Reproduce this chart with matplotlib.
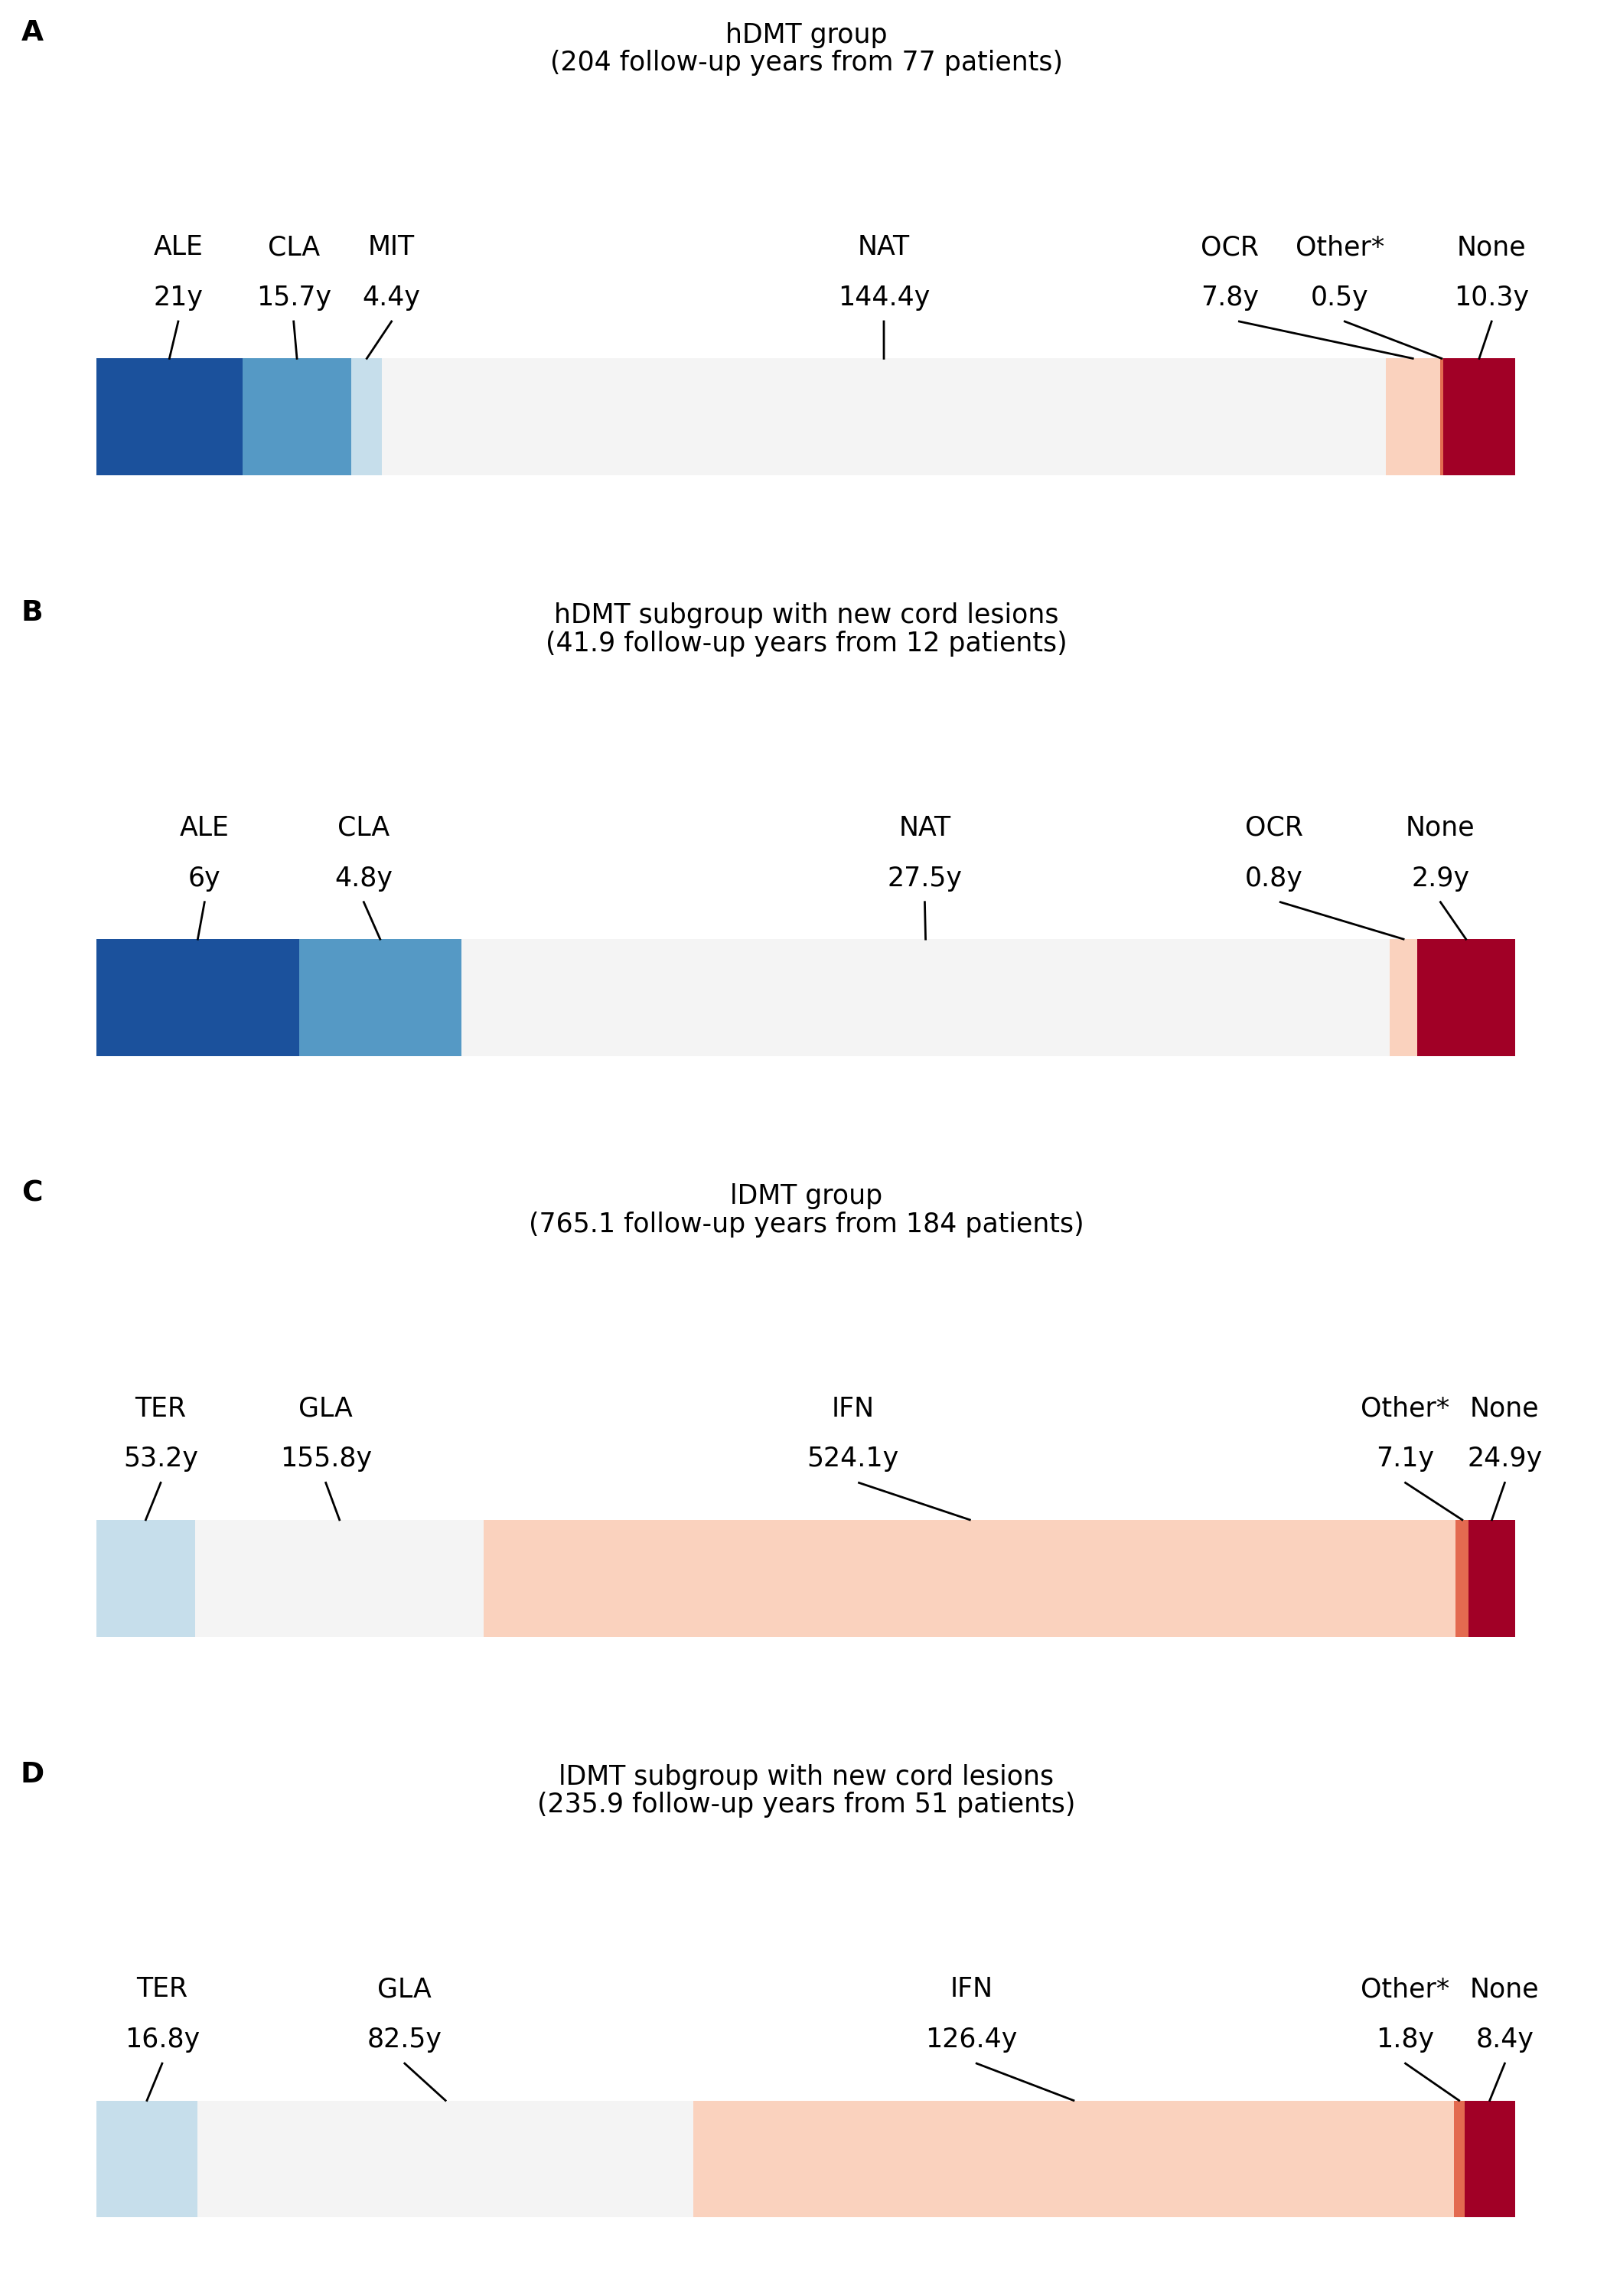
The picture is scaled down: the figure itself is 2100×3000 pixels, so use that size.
import matplotlib
matplotlib.use("Agg")
import matplotlib.pyplot as plt

panel_letters = ["A", "B", "C", "D"]
titles = ["hDMT group\n(204 follow-up years from 77 patients)",
          "hDMT subgroup with new cord lesions\n(41.9 follow-up years from 12 patients)",
          "lDMT group\n(765.1 follow-up years from 184 patients)",
          "lDMT subgroup with new cord lesions\n(235.9 follow-up years from 51 patients)"]
cats_A = ["ALE", "CLA", "MIT", "NAT", "OCR", "Other*", "None"]
vals_A = [21, 15.7, 4.4, 144.4, 7.8, 0.5, 10.3]
lbls_A = ["21y", "15.7y", "4.4y", "144.4y", "7.8y", "0.5y", "10.3y"]
cats_B = ["ALE", "CLA", "NAT", "OCR", "None"]
vals_B = [6, 4.8, 27.5, 0.8, 2.9]
lbls_B = ["6y", "4.8y", "27.5y", "0.8y", "2.9y"]
cats_C = ["TER", "GLA", "IFN", "Other*", "None"]
vals_C = [53.2, 155.8, 524.1, 7.1, 24.9]
lbls_C = ["53.2y", "155.8y", "524.1y", "7.1y", "24.9y"]
cats_D = ["TER", "GLA", "IFN", "Other*", "None"]
vals_D = [16.8, 82.5, 126.4, 1.8, 8.4]
lbls_D = ["16.8y", "82.5y", "126.4y", "1.8y", "8.4y"]

colors = {"ALE": "#1B519C", "CLA": "#5599C5", "MIT": "#C6DEEB", "TER": "#C6DEEB",
          "NAT": "#F4F4F4", "GLA": "#F4F4F4", "OCR": "#FAD2BE", "IFN": "#FAD2BE",
          "Other*": "#E36A50", "None": "#A10026"}
# label x positions (fraction of bar width, repelled layout)
labx = [[122, 201, 268, 605, 842, 917, 1021],
        [140, 249, 633, 872, 986],
        [110, 223, 584, 962, 1030],
        [111, 277, 665, 962, 1030]]

panels = [(cats_A, vals_A, lbls_A), (cats_B, vals_B, lbls_B),
          (cats_C, vals_C, lbls_C), (cats_D, vals_D, lbls_D)]

fig = plt.figure(figsize=(21, 30), dpi=100)
H = 1550.0
L, R = 66.0, 1037.0
fs = 25
for i, (cats, vals, lbls) in enumerate(panels):
    off = i * 392
    top = off + 60
    bot = off + 330
    ax = fig.add_axes([L / 1100, 1 - bot / H, (R - L) / 1100, (bot - top) / H])
    total = sum(vals)
    ax.set_xlim(0, total)
    ax.set_ylim(bot - off, top - off)
    ax.axis("off")
    left = 0
    for c, v, lb, lx in zip(cats, vals, lbls, labx[i]):
        ax.barh(281.5, v, left=left, height=79, color=colors[c], linewidth=0)
        cx = left + v / 2
        tx = (lx - L) / (R - L) * total
        ax.text(tx, 167, c, ha="center", va="center", fontsize=fs)
        ax.text(tx, 201, lb, ha="center", va="center", fontsize=fs)
        sx = tx + (cx - tx) * 0.0
        ax.plot([tx + (cx - tx) * 0.05 if abs(cx - tx) > total * 0.05 else tx, cx], [217, 242],
                color="black", lw=2, clip_on=False)
        left += v
    fig.text(552 / 1100, 1 - (off + 33) / H, titles[i], ha="center", va="center",
             fontsize=fs, linespacing=1.1)
    fig.text(22 / 1100, 1 - (off + 22) / H, panel_letters[i], ha="center", va="center",
             fontsize=fs + 2, fontweight="bold")

fig.savefig("out.png", dpi=100, facecolor="white")
